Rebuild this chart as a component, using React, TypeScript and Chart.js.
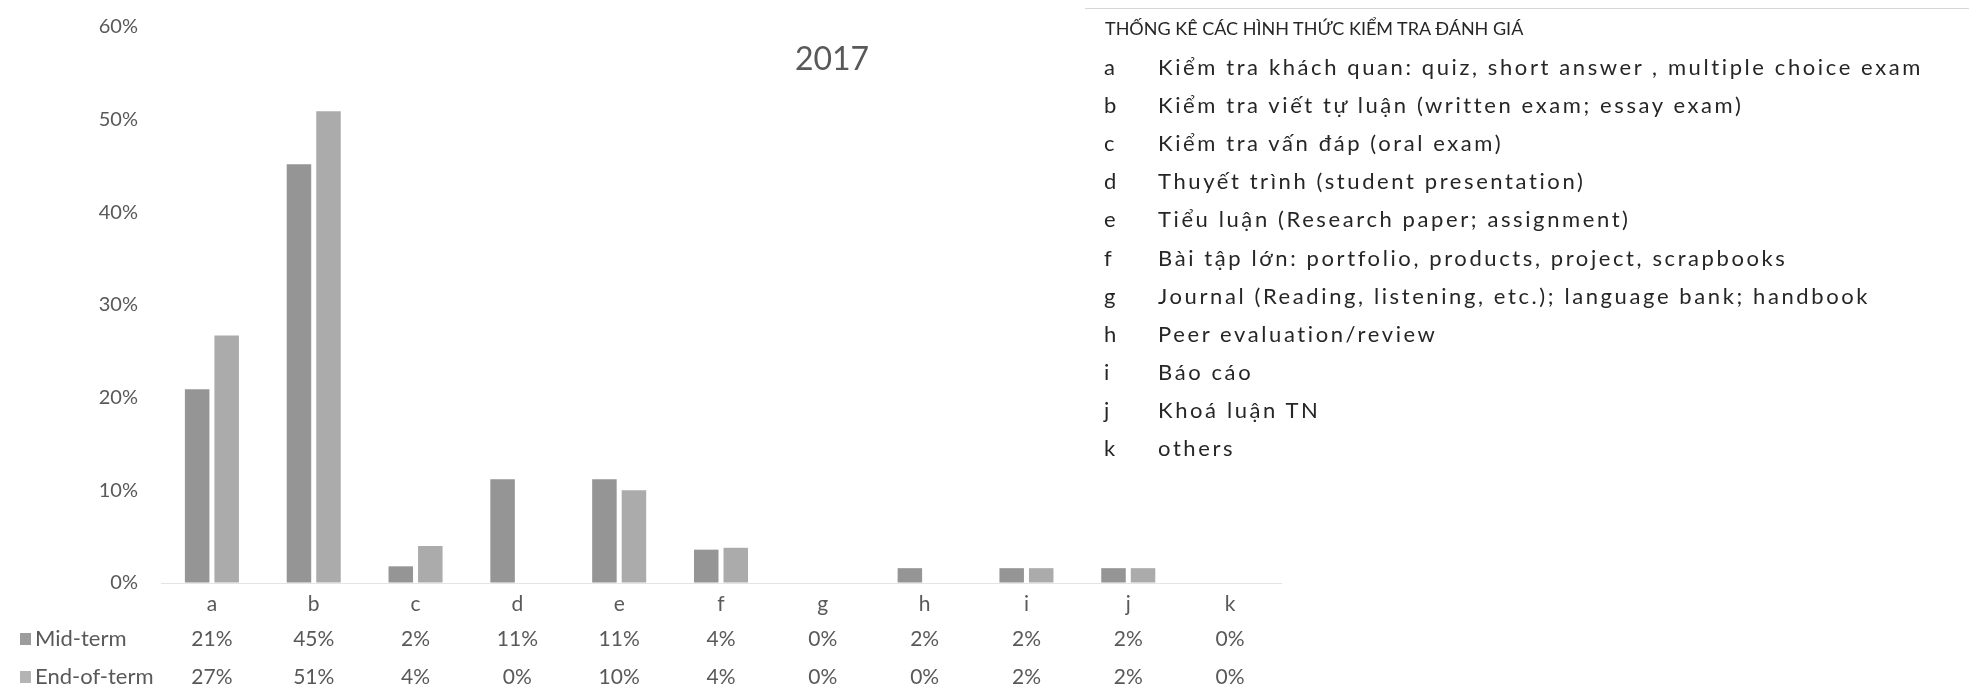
import { useEffect, useRef } from "react";
import { Chart, registerables } from "chart.js";

Chart.register(...registerables);

const categories = ["a", "b", "c", "d", "e", "f", "g", "h", "i", "j", "k"];
const midTerm = [20.9, 45.2, 1.8, 11.2, 11.2, 3.6, 0, 1.6, 1.6, 1.6, 0];
const endOfTerm = [26.7, 50.9, 4.0, 0, 10.0, 3.8, 0, 0, 1.6, 1.6, 0];
const seriesNames = ["Mid-term", "End-of-term"];
const yMax = 60;
const yStep = 10;
const chartTitle = "2017";
const noteTitle = "THỐNG KÊ CÁC HÌNH THỨC KIỂM TRA ĐÁNH GIÁ";
const noteTexts = [
  "Kiểm tra khách quan: quiz, short answer , multiple choice exam",
  "Kiểm tra viết tự luận (written exam; essay exam)",
  "Kiểm tra vấn đáp (oral exam)",
  "Thuyết trình (student presentation)",
  "Tiểu luận (Research paper; assignment)",
  "Bài tập lớn:  portfolio, products, project, scrapbooks",
  "Journal (Reading, listening, etc.); language bank; handbook",
  "Peer evaluation/review",
  "Báo cáo",
  "Khoá luận TN",
  "others",
];

const W = 1969;
const H = 692;
const FONT = "Lato, 'Open Sans', sans-serif";
const TEXT = "#595959";
const barColors = ["#959595", "#ababab"];
const swatchColors = ["#9c9c9c", "#b4b4b4"];

const overlayPlugin = {
  id: "overlay",
  afterDraw(chart: any) {
    const { ctx, chartArea } = chart;
    const x = chart.scales.x;
    ctx.save();
    // title
    ctx.font = `32px ${FONT}`;
    ctx.fillStyle = TEXT;
    ctx.textAlign = "center";
    ctx.textBaseline = "middle";
    ctx.fillText(chartTitle, 832, 60);
    // data table
    const rowYs = [chartArea.bottom + 56, chartArea.bottom + 94];
    chart.data.datasets.forEach((ds: any, di: number) => {
      const y = rowYs[di];
      ctx.font = `21px ${FONT}`;
      ctx.fillStyle = TEXT;
      ctx.textAlign = "center";
      ctx.textBaseline = "middle";
      ds.data.forEach((v: number, i: number) => {
        ctx.fillText(`${Math.round(v)}%`, x.getPixelForValue(i), y);
      });
      ctx.fillStyle = swatchColors[di];
      ctx.fillRect(20, y - 6, 11, 12);
      ctx.fillStyle = TEXT;
      ctx.textAlign = "left";
      ctx.font = `22px ${FONT}`;
      ctx.fillText(ds.label, 35, y);
    });
    ctx.restore();
  },
};

export default function App() {
  const ref = useRef<HTMLCanvasElement | null>(null);

  useEffect(() => {
    if (!ref.current) return;
    const chart = new Chart(ref.current, {
      type: "bar",
      data: {
        labels: categories,
        datasets: [
          {
            label: seriesNames[0],
            data: midTerm,
            backgroundColor: barColors[0],
            categoryPercentage: 0.58,
            barPercentage: 0.83,
          },
          {
            label: seriesNames[1],
            data: endOfTerm,
            backgroundColor: barColors[1],
            categoryPercentage: 0.58,
            barPercentage: 0.83,
          },
        ],
      },
      options: {
        animation: false,
        responsive: false,
        layout: { padding: { left: 0, right: W - 1281, top: 27, bottom: 0 } },
        plugins: {
          legend: { display: false },
          title: { display: false },
          tooltip: { enabled: false },
        },
        scales: {
          x: {
            grid: { display: false, drawTicks: false },
            border: { display: true, color: "#e4e4e4", width: 1 },
            ticks: { color: TEXT, font: { family: FONT, size: 21 }, padding: 9 },
            afterFit: (s: any) => {
              s.height = H - 583;
            },
          },
          y: {
            min: 0,
            max: yMax,
            grid: {
              display: true,
              drawOnChartArea: false,
              drawTicks: true,
              tickLength: 23,
              color: "rgba(0,0,0,0)",
            },
            border: { display: false },
            ticks: {
              stepSize: yStep,
              color: TEXT,
              font: { family: FONT, size: 20 },
              padding: 0,
              callback: (v: any) => `${v}%`,
            },
            afterFit: (s: any) => {
              s.width = 161;
            },
          },
        },
      },
      plugins: [overlayPlugin],
    });
    return () => chart.destroy();
  }, []);

  return (
    <div
      style={{
        position: "fixed",
        left: 0,
        top: 0,
        width: W,
        height: H,
        background: "#fff",
        overflow: "hidden",
      }}
    >
      <canvas ref={ref} width={W} height={H} style={{ width: W, height: H, display: "block" }} />
      <div
        style={{
          position: "absolute",
          left: 1085,
          top: 8,
          width: W - 1085,
          borderTop: "1px solid #d6d6d6",
        }}
      />
      <div
        style={{
          position: "absolute",
          left: 1105,
          top: 15,
          fontFamily: FONT,
          fontSize: 18,
          lineHeight: "26px",
          color: "#262626",
          whiteSpace: "nowrap",
        }}
      >
        {noteTitle}
      </div>
      {categories.map((c, i) => (
        <div
          key={c}
          style={{
            position: "absolute",
            left: 1104,
            top: 54 + i * 38.1,
            height: 26,
            fontFamily: FONT,
            fontSize: 22,
            lineHeight: "26px",
            color: "#262626",
            whiteSpace: "nowrap",
          }}
        >
          <span style={{ display: "inline-block", width: 54 }}>{c}</span>
          <span style={{ letterSpacing: "2.6px" }}>{noteTexts[i]}</span>
        </div>
      ))}
    </div>
  );
}
